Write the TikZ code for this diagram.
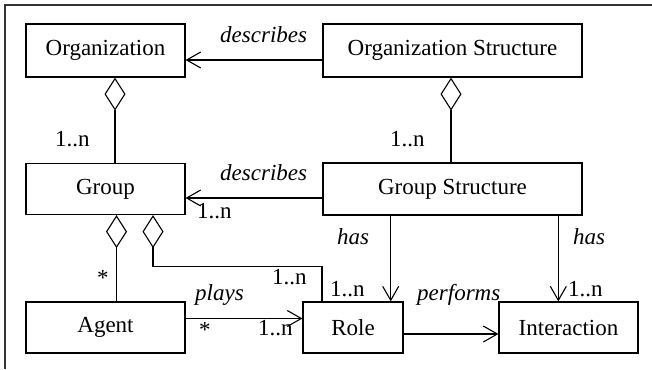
\documentclass[tikz,border=0pt]{standalone}
\usepackage{fontspec}
\setmainfont{Liberation Serif}
\usetikzlibrary{arrows.meta}
\begin{document}
\begin{tikzpicture}[x=1pt,y=-1pt,
  every node/.style={font=\fontsize{23}{27}\selectfont},
  cls/.style={draw,line width=1.2pt,inner sep=0pt,align=center},
  assoc/.style={line width=1.1pt,-{Straight Barb[length=14pt,width=16pt,line width=1.1pt]}},
  aggr/.style={line width=1.1pt,{Diamond[open,length=33pt,width=21pt,line width=1.1pt]}-},
  lab/.style={anchor=base west,inner sep=0pt},
  rel/.style={lab,font=\fontsize{23}{27}\selectfont\itshape}]
\useasboundingbox (0,0) rectangle (652,369);

% frame
\draw[line width=2pt,black!80] (4.7,369) -- (4.7,5) -- (652,5);

% classes
\node[cls,minimum width=159pt,minimum height=53pt] (org)   at (105.5,50.5) {Organization};
\node[cls,minimum width=259pt,minimum height=53pt] (os)    at (452.5,50.5) {Organization Structure};
\node[cls,minimum width=159pt,minimum height=51pt] (group) at (105.5,189)  {Group};
\node[cls,minimum width=259pt,minimum height=52pt] (gs)    at (452.5,189)  {Group Structure};
\node[cls,minimum width=159pt,minimum height=51pt] (agent) at (105.5,327.5) {Agent};
\node[cls,minimum width=100pt,minimum height=51pt] (role)  at (353,327.5)  {Role};
\node[cls,minimum width=139pt,minimum height=51pt] (inter) at (568.5,327.5) {Interaction};

% relations
\draw[assoc] ([yshift=-9.5pt]os.west) -- ([yshift=-9.5pt]org.east);
\draw[assoc] ([yshift=-9pt]gs.west) -- ([yshift=-9pt]group.east);
\draw[aggr] ([xshift=9.5pt]org.south) -- ([xshift=9.5pt]group.north);
\draw[aggr] ([xshift=-1.5pt]os.south) -- ([xshift=-1.5pt]gs.north);
\draw[aggr] ([xshift=11pt]group.south) -- ([xshift=11pt]agent.north);
\coordinate (bend) at (153,266.7);
\draw[aggr,line join=miter] ([xshift=47.5pt]group.south) -- (bend) -| ([xshift=-31pt]role.north);
\draw[assoc] ([yshift=9pt]agent.east) -- ([yshift=9pt]role.west);
\draw[assoc] ([xshift=-61.8pt]gs.south) -- ([xshift=37.7pt]role.north);
\draw[assoc] ([xshift=105.8pt]gs.south) -- ([xshift=-10.2pt]inter.north);
\draw[assoc] ([yshift=-6.5pt]role.east) -- ([yshift=-6.5pt]inter.west);

% labels
\node[rel] (d1) at (220,42) {describes};
\node[rel] (d2) at (220,180) {describes};
\node[lab] (m1) at (55,146) {1..n};
\node[lab] (m2) at (390,146) {1..n};
\node[lab] (m3) at (197,218) {1..n};
\node[lab] (m4) at (97,285) {*};
\node[lab] (m5) at (272,284) {1..n};
\node[rel] (pl) at (195,300) {plays};
\node[lab] (m6) at (199,337) {*};
\node[lab] (m7) at (258,335.7) {1..n};
\node[lab] (m8) at (330,296.7) {1..n};
\node[rel] (h1) at (337,244) {has};
\node[rel] (h2) at (573,244) {has};
\node[lab] (m9) at (568,296.7) {1..n};
\node[rel] (pf) at (417,300.7) {performs};
\end{tikzpicture}
\end{document}
